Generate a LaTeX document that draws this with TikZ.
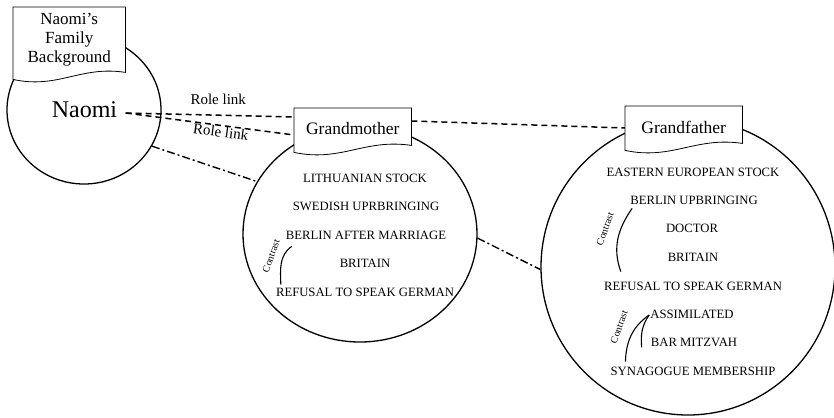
\documentclass[tikz,border=0pt]{standalone}
\usepackage{fontspec}
\setmainfont{Liberation Serif}
\usetikzlibrary{shapes.geometric,calc}

% card with a wavy lower edge, drawn over an empty frame node
\newcommand\docframe[1]{%
  \filldraw[framepath] (#1.north west) -- (#1.north east) -- ([yshift=7pt]#1.south east)
    .. controls ($(#1.south west)!0.6!(#1.south east)+(0pt,14pt)$)
    and ($(#1.south west)!0.4!(#1.south east)+(0pt,-10pt)$) .. (#1.south west) -- cycle;}

\begin{document}
\begin{tikzpicture}[x=1pt,y=1pt,
  ring/.style={ellipse,draw,line width=1.3pt,inner sep=0pt},
  frame/.style={draw=none,inner sep=0pt,anchor=north west},
  framepath/.style={draw,fill=white,line width=0.8pt},
  item/.style={font=\fontsize{12.7}{14}\selectfont,text height=8.4pt,text depth=0pt,inner sep=0pt},
  tag/.style={font=\fontsize{15}{17}\selectfont},
  rolelink/.style={dash pattern=on 6pt off 4pt,line width=1.5pt},
  kinlink/.style={dash pattern=on 8pt off 3pt on 2pt off 3pt,line width=1.4pt},
  contrast/.style={line width=1.1pt},
  contrastlabel/.style={font=\fontsize{10}{11}\selectfont,rotate=70,inner sep=0pt}
]
\useasboundingbox (0,0) rectangle (834,-417);

% circles of the three people
\node[ring,minimum width=154pt,minimum height=148pt] (naomiC) at (84,-110) {};
\node[ring,minimum width=234pt,minimum height=216pt] (gmC) at (360,-234) {};
\node[ring,minimum width=294pt,minimum height=296pt] (gfC) at (688,-267) {};

% card frames
\node[frame,minimum width=112pt,minimum height=72pt] (famBox) at (13,-7) {};
\node[frame,minimum width=117pt,minimum height=44pt] (gmBox) at (294,-108) {};
\node[frame,minimum width=117pt,minimum height=44pt] (gfBox) at (625,-106) {};

\node[font=\fontsize{24}{26}\selectfont] (naomi) at (84.5,-110) {Naomi};

% links
\draw[rolelink] ([xshift=5pt,yshift=-3pt]naomi.east) -- node[tag,pos=0.55,above=6pt]{Role link} ([yshift=-9pt]gmBox.north west);
\draw[rolelink] ([xshift=5pt,yshift=-3pt]naomi.east) -- node[tag,pos=0.57,sloped,below=-3pt]{Role link} ([yshift=-27pt]gmBox.north west);
\draw[rolelink] ([yshift=-13pt]gmBox.north east) -- ([yshift=-22pt]gfBox.north west);
\draw[kinlink] (naomiC.-28) -- (gmC.153);
\draw[kinlink] (gmC.-2) -- (gfC.181);

% cards
\docframe{famBox}
\docframe{gmBox}
\docframe{gfBox}
\node[font=\fontsize{17}{19}\selectfont,align=center] (famText) at ([yshift=4pt]famBox.center) {Naomi’s\\Family\\Background};
\node[font=\fontsize{17.5}{19}\selectfont] (gmText) at ([yshift=2pt]gmBox.center) {Grandmother};
\node[font=\fontsize{17.5}{19}\selectfont] (gfText) at ([yshift=1pt]gfBox.center) {Grandfather};

% grandmother
\node[item] (gmLith) at (365,-178) {LITHUANIAN STOCK};
\node[item] (gmSwed) at (366,-206) {SWEDISH UPRBRINGING};
\node[item] (gmBerlin) at (366,-235) {BERLIN AFTER MARRIAGE};
\node[item] (gmBritain) at (365,-263) {BRITAIN};
\node[item] (gmRefusal) at (365,-292) {REFUSAL TO SPEAK GERMAN};
\draw[contrast] ([shift={(6pt,-7pt)}]gmBerlin.south west) to[out=215,in=92] ([shift={(5pt,3pt)}]gmRefusal.north west);
\node[contrastlabel] (gmContrast) at (271,-256) {Contrast};

% grandfather
\node[item] (gfEast) at (693,-172) {EASTERN EUROPEAN STOCK};
\node[item] (gfBerlin) at (694,-200) {BERLIN UPBRINGING};
\node[item] (gfDoctor) at (692,-228) {DOCTOR};
\node[item] (gfBritain) at (693,-257) {BRITAIN};
\node[item] (gfRefusal) at (693,-286) {REFUSAL TO SPEAK GERMAN};
\node[item] (gfAssim) at (692,-314) {ASSIMILATED};
\node[item] (gfBar) at (694,-342) {BAR MITZVAH};
\node[item] (gfSyn) at (693,-371) {SYNAGOGUE MEMBERSHIP};
\draw[contrast] ([shift={(2pt,-4pt)}]gfBerlin.south west) to[out=235,in=110] ([shift={(17pt,10pt)}]gfRefusal.north west);
\node[contrastlabel] (gfContrastA) at (605,-229) {Contrast};
\draw[contrast] ([shift={(-1pt,-1pt)}]gfAssim.west) to[out=215,in=88] ([shift={(15pt,5pt)}]gfSyn.north west);
\draw[contrast] ([shift={(-1pt,-1pt)}]gfAssim.west) to[out=235,in=95] ([shift={(-9pt,-1pt)}]gfBar.south west);
\node[contrastlabel] (gfContrastB) at (619,-327) {Contrast};
\end{tikzpicture}
\end{document}
